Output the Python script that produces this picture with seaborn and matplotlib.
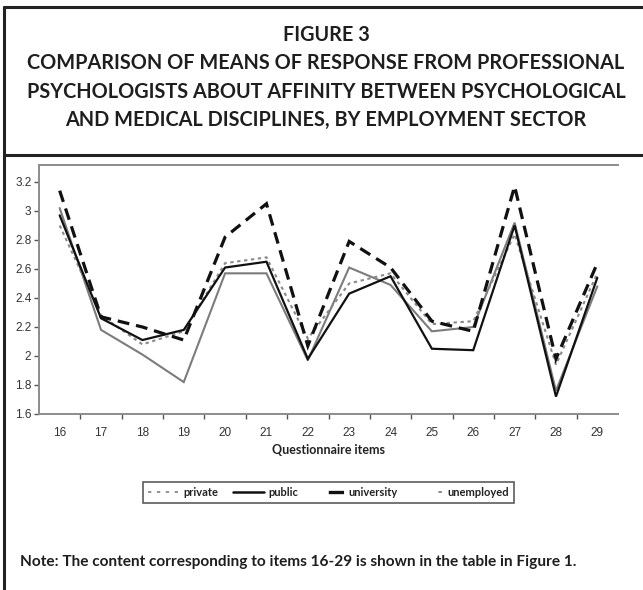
import matplotlib
matplotlib.use("Agg")
import matplotlib.pyplot as plt
from matplotlib.lines import Line2D
import seaborn as sns
import numpy as np
import pandas as pd

# ---- data ----
items = ["16", "17", "18", "19", "20", "21", "22", "23", "24", "25", "26", "27", "28", "29"]
private = [2.90, 2.28, 2.08, 2.17, 2.64, 2.68, 2.12, 2.50, 2.57, 2.22, 2.24, 2.84, 1.94, 2.57]
public = [2.97, 2.26, 2.11, 2.18, 2.61, 2.65, 1.98, 2.43, 2.55, 2.05, 2.04, 2.90, 1.72, 2.54]
university = [3.14, 2.27, 2.20, 2.11, 2.82, 3.05, 2.07, 2.79, 2.61, 2.24, 2.17, 3.17, 1.98, 2.64]
unemployed = [3.02, 2.18, 2.01, 1.82, 2.57, 2.57, 1.97, 2.61, 2.49, 2.17, 2.20, 2.92, 1.76, 2.48]
series_names = ["private", "public", "university", "unemployed"]
y_ticks = [1.6, 1.8, 2.0, 2.2, 2.4, 2.6, 2.8, 3.0, 3.2]

title_lines = ["FIGURE 3",
               "COMPARISON OF MEANS OF RESPONSE FROM PROFESSIONAL",
               "PSYCHOLOGISTS ABOUT AFFINITY BETWEEN PSYCHOLOGICAL",
               "AND MEDICAL DISCIPLINES, BY EMPLOYMENT SECTOR"]
note = "Note: The content corresponding to items 16-29 is shown in the table in Figure 1."

sns.set_theme(style="white")
plt.rcParams["lines.scale_dashes"] = False
plt.rcParams["font.family"] = ["Liberation Sans", "DejaVu Sans"]

W, H = 643, 590
fig = plt.figure(figsize=(W / 100, H / 100), dpi=100)
fig.patch.set_facecolor("white")

def fx(px):
    return px / W

def fy(py):
    return 1 - py / H

# axes placement
left, right, top, bottom = 39, 618, 165, 414
ax = fig.add_axes([fx(left), fy(bottom), (right - left) / W, (bottom - top) / H])

df = pd.DataFrame({"item": items, "pos": np.arange(len(items)),
                   "private": private, "public": public,
                   "university": university, "unemployed": unemployed})

styles = {
    "private": dict(color="#8a8a8a", lw=1.5, dashes=(2.4, 2.6)),
    "public": dict(color="#111111", lw=1.6, dashes=None),
    "university": dict(color="#111111", lw=2.3, dashes=(8.5, 5.0)),
    "unemployed": dict(color="#7c7c7c", lw=1.5, dashes=None),
}
draw_order = ["unemployed", "private", "public", "university"]
for name in draw_order:
    st = styles[name]
    sns.lineplot(data=df, x="pos", y=name, ax=ax, color=st["color"],
                 linewidth=st["lw"], legend=False, sort=False)
    ln = ax.get_lines()[-1]
    if st["dashes"] is not None:
        ln.set_dashes(st["dashes"])
    ln.set_solid_joinstyle("miter")
    ln.set_dash_joinstyle("miter")

ax.set_xlim(-0.5, len(items) - 0.5)
ax.set_ylim(1.6, 3.317)
ax.set_yticks(y_ticks)
ax.set_yticklabels([f"{v:g}" for v in y_ticks])
ax.set_xticks(np.arange(len(items)))
ax.set_xticklabels(items)
ax.set_xticks(np.arange(len(items) - 1) + 0.5, minor=True)
ax.tick_params(axis="x", which="major", length=0, pad=9, labelsize=8.5, labelcolor="#333333")
ax.tick_params(axis="x", which="minor", length=3.5, width=1.0, color="#555555", direction="out", bottom=True)
ax.tick_params(axis="y", which="major", length=3.5, width=1.0, color="#555555", direction="out",
               left=True, labelsize=8.5, labelcolor="#333333", pad=2)
ax.set_ylabel("")
ax.set_xlabel("Questionnaire items", fontsize=9, fontweight="bold", family=["Lato", "DejaVu Sans"],
              color="#222222", labelpad=4)
for side in ["left", "bottom", "top"]:
    ax.spines[side].set_visible(True)
    ax.spines[side].set_color("#8c8c8c")
    ax.spines[side].set_linewidth(1.4)
ax.spines["right"].set_visible(False)
ax.grid(False)

# legend
handles = [
    Line2D([], [], color="#8a8a8a", lw=1.3, dashes=(2.4, 4.0)),
    Line2D([], [], color="#111111", lw=1.8),
    Line2D([], [], color="#111111", lw=2.4, dashes=(0, 11, 11, 40)),
    Line2D([], [], color="#8a8a8a", lw=1.4, dashes=(0, 19, 2.5, 40)),
]
leg = fig.legend(handles, series_names, loc="center", bbox_to_anchor=(fx(328.5), fy(492.5)),
                 ncol=4, frameon=True, fancybox=False, handlelength=2.8, handletextpad=0.4,
                 columnspacing=1.3, borderpad=0.45,
                 prop={"family": ["Lato", "DejaVu Sans"], "weight": "bold", "size": 8})
leg.get_frame().set_edgecolor("#333333")
leg.get_frame().set_linewidth(1.2)
for t in leg.get_texts():
    t.set_color("#222222")

# title
title_y = [35, 63, 92, 120]
for line, yy in zip(title_lines, title_y):
    fig.text(fx(326), fy(yy), line, ha="center", va="center", fontsize=14.3, fontweight="bold",
             family=["Lato", "DejaVu Sans"], color="#1e1e1e")

# note
fig.text(fx(20), fy(562), note, ha="left", va="center", fontsize=11.1, fontweight="bold",
         family=["Lato", "DejaVu Sans"], color="#1e1e1e")

# frame lines (decoration)
frame_kw = dict(color="#222222", lw=2.2, transform=fig.transFigure, solid_capstyle="butt")
fig.add_artist(Line2D([fx(4), fx(4)], [fy(6), fy(590)], **frame_kw))
fig.add_artist(Line2D([fx(3), fx(643)], [fy(7), fy(7)], **frame_kw))
fig.add_artist(Line2D([fx(3), fx(643)], [fy(155), fy(155)], **frame_kw))

fig.savefig("out.png", dpi=100, facecolor="white")
